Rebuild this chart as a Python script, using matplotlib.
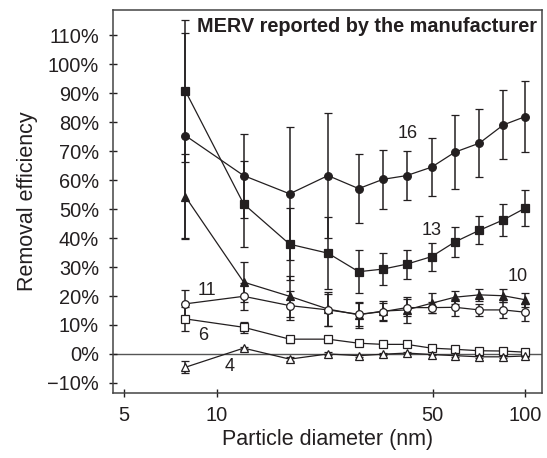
import matplotlib
matplotlib.use("Agg")
import matplotlib.pyplot as plt
from matplotlib.ticker import FixedLocator, FuncFormatter, NullLocator

plt.rcParams['font.family'] = ['Liberation Sans', 'DejaVu Sans']
ink = '#231f20'

# particle diameters (nm)
diam = [7.9, 12.2, 17.2, 22.9, 28.8, 34.5, 41.2, 49.6, 59.1, 70.9, 84.8, 100]

# removal efficiency (%) and error for each MERV rating
merv16 = [75.4, 61.6, 55.3, 61.6, 57.1, 60.3, 61.6, 64.5, 69.7, 72.8, 79.1, 82.0]
err16 = [35.3, 14.5, 23.0, 21.5, 12.0, 10.3, 8.6, 10.0, 12.8, 11.7, 11.9, 12.4]
merv13 = [90.8, 51.8, 37.9, 34.8, 28.4, 29.3, 31.0, 33.6, 38.7, 42.7, 46.3, 50.4]
err13 = [24.5, 14.7, 12.4, 12.4, 7.5, 5.5, 5.0, 4.8, 5.1, 4.9, 5.5, 6.3]
merv10 = [54.3, 24.8, 19.9, 15.5, 13.5, 14.8, 15.2, 17.5, 19.6, 20.4, 20.1, 18.7]
err10 = [14.7, 6.9, 7.0, 6.0, 4.5, 3.5, 4.5, 3.5, 2.3, 2.0, 2.2, 2.5]
merv11 = [17.3, 19.9, 16.7, 15.2, 13.7, 14.6, 16.0, 16.0, 16.1, 15.2, 15.2, 14.4]
err11 = [4.8, 4.7, 5.0, 5.5, 4.0, 3.0, 3.0, 2.0, 3.0, 2.1, 2.9, 3.0]
merv6 = [12.1, 9.2, 5.1, 5.1, 3.7, 3.3, 3.3, 2.0, 1.6, 1.1, 1.0, 0.6]
err6 = [4.2, 2.0, 1.2, 1.2, 0.6, 0.5, 0.5, 0.4, 0.4, 0.3, 0.3, 0.3]
merv4 = [-4.6, 2.0, -1.8, 0.0, -0.6, -0.1, 0.3, -0.2, -0.6, -1.0, -1.0, -0.7]
err4 = [2.0, 0.5, 0.8, 0.5, 0.4, 0.4, 0.4, 0.3, 0.3, 0.3, 0.3, 0.3]

# series label text and where it sits (data coords)
labels = ['16', '13', '10', '11', '6', '4']
label_x = [41.6, 49.7, 94.2, 9.26, 8.99, 10.96]
label_y = [76.2, 42.6, 26.7, 21.8, 6.2, -4.4]

yticks = list(range(-10, 111, 10))
xticks = [5, 10, 50, 100]

fig = plt.figure(figsize=(5.47, 4.58), dpi=100)
ax = fig.add_axes([0.2066, 0.1419, 0.7843, 0.8363])

ax.axhline(0, color='#555555', lw=1.0, zorder=1)

series = [
    (merv16, err16, 'o', ink),
    (merv13, err13, 's', ink),
    (merv10, err10, '^', ink),
    (merv11, err11, 'o', 'white'),
    (merv6, err6, 's', 'white'),
    (merv4, err4, '^', 'white'),
]
for vals, errs, mk, face in series:
    ax.errorbar(diam, vals, yerr=errs, fmt='-', marker=mk, color=ink,
                mfc=face, mec=ink, ms=5.5, mew=0.9, lw=0.9,
                elinewidth=1.1, capsize=3, capthick=1.1, zorder=3)

for t, lx, ly in zip(labels, label_x, label_y):
    ax.text(lx, ly, t, fontsize=13, color=ink, ha='center', va='center')

ax.text(0.988, 0.958, 'MERV reported by the manufacturer', transform=ax.transAxes,
        fontsize=14.3, fontweight='bold', color=ink, ha='right', va='center')

ax.set_xscale('log')
ax.set_xlim(4.6, 113.2)
ax.set_ylim(-13.5, 118.8)
ax.xaxis.set_major_locator(FixedLocator(xticks))
ax.xaxis.set_minor_locator(NullLocator())
ax.xaxis.set_major_formatter(FuncFormatter(lambda v, p: f'{v:g}'))
ax.yaxis.set_major_locator(FixedLocator(yticks))
ax.yaxis.set_major_formatter(FuncFormatter(lambda v, p: f'{v:.0f}%'.replace('-', '\u2212')))

ax.tick_params(direction='inout', length=6, width=1, colors=ink, labelsize=14.4,
               top=False, right=False)
ax.tick_params(axis='y', pad=7)
ax.tick_params(axis='x', pad=6)
for s in ax.spines.values():
    s.set_color('#444444')
    s.set_linewidth(1.1)

ax.set_xlabel('Particle diameter (nm)', fontsize=15.5, color=ink, labelpad=3)
ax.set_ylabel('Removal efficiency', fontsize=15.5, color=ink, labelpad=7)

fig.savefig('out.png', dpi=100)
